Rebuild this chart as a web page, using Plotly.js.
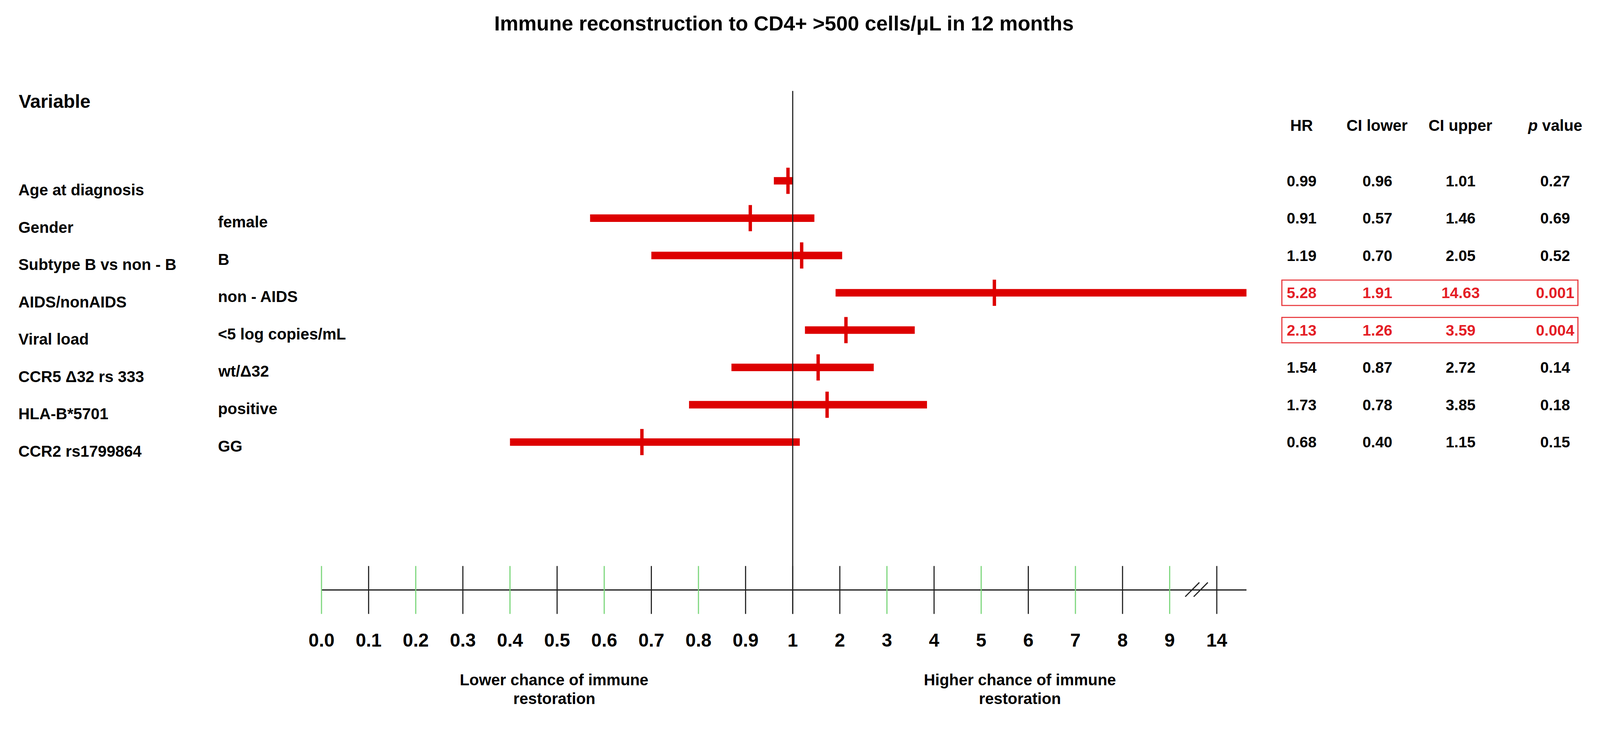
<!DOCTYPE html>
<html>
<head>
<meta charset="utf-8">
<script src="https://cdn.plot.ly/plotly-3.0.1.min.js"></script>
<style>html,body{margin:0;padding:0;background:#fff;overflow:hidden;}</style>
</head>
<body>
<div id="chart"></div>
<script>
// ---- data ----
const variables = ["Age at diagnosis", "Gender", "Subtype B vs non - B", "AIDS/nonAIDS", "Viral load", "CCR5 Δ32 rs 333", "HLA-B*5701", "CCR2 rs1799864"];
const levels = ["", "female", "B", "non - AIDS", "<5 log copies/mL", "wt/Δ32", "positive", "GG"];
const hr = [0.99, 0.91, 1.19, 5.28, 2.13, 1.54, 1.73, 0.68];
const ciLower = [0.96, 0.57, 0.70, 1.91, 1.26, 0.87, 0.78, 0.40];
const ciUpper = [1.01, 1.46, 2.05, 14.63, 3.59, 2.72, 3.85, 1.15];
const pValue = [0.27, 0.69, 0.52, 0.001, 0.004, 0.14, 0.18, 0.15];
const tickValues = [0.0, 0.1, 0.2, 0.3, 0.4, 0.5, 0.6, 0.7, 0.8, 0.9, 1, 2, 3, 4, 5, 6, 7, 8, 9, 14];
const tickLabels = ["0.0", "0.1", "0.2", "0.3", "0.4", "0.5", "0.6", "0.7", "0.8", "0.9", "1", "2", "3", "4", "5", "6", "7", "8", "9", "14"];
const tableHeaders = ["HR", "CI lower", "CI upper", "<i>p</i> value"];
const titleText = "Immune reconstruction to CD4+ &gt;500 cells/μL in 12 months";
const lowerText = ["Lower chance of immune", "restoration"];
const higherText = ["Higher chance of immune", "restoration"];

// ---- style ----
const FONT = "Liberation Sans, Arial, Helvetica, sans-serif";
const RED = "#dd0000";
const TXT_RED = "#e41e26";
const GREEN = "#7ad67a";
const greenTickValues = [0.0, 0.2, 0.4, 0.6, 0.8, 3, 5, 7, 9];

// design size and fit to the actual viewport
const W = 4275, H = 1935;
const vw = window.innerWidth || W, vh = window.innerHeight || H;
const S = Math.min(vw / W, vh / H);
const px = v => v * S;
document.getElementById("chart").style.width = (W * S) + "px";
document.getElementById("chart").style.height = (H * S) + "px";

// broken axis scale: 0-1 by tenths, 1-9 by units, 9-14 compressed to one step
function pos(v) {
  if (v <= 1) return v * 10;
  if (v <= 9) return 10 + (v - 1);
  if (v <= 14) return 18 + (v - 9) / 5;
  return 19 + (v - 14);
}
function esc(s) { return s.replace(/</g, "&lt;").replace(/>/g, "&gt;"); }
function fmtP(p) { return p < 0.01 ? p.toFixed(3) : p.toFixed(2); }

const rows = variables.map((_, i) => i);

const trace = {
  type: "scatter", mode: "markers",
  x: hr.map(pos), y: rows,
  error_x: {
    type: "data", symmetric: false,
    array: hr.map((h, i) => pos(ciUpper[i]) - pos(h)),
    arrayminus: hr.map((h, i) => pos(h) - pos(ciLower[i])),
    color: RED, thickness: px(20), width: 0
  },
  marker: { symbol: "line-ns", size: px(50), color: RED, line: { width: px(9), color: RED } },
  hoverinfo: "skip", showlegend: false
};

// axis geometry (paper coords)
const axisY = 1 - 1576 / H;
const tickTop = 1 - 1512 / H;
const tickBot = 1 - 1640 / H;
const vTop = 1 - 243 / H;

const shapes = [];
shapes.push({ type: "line", xref: "x", yref: "paper", x0: pos(tickValues[0]), x1: Math.max(...ciUpper.map(pos)), y0: axisY, y1: axisY, line: { color: "#111", width: px(3) } });
tickValues.forEach(v => {
  const g = greenTickValues.indexOf(v) >= 0;
  shapes.push({ type: "line", xref: "x", yref: "paper", x0: pos(v), x1: pos(v), y0: tickBot, y1: tickTop, line: { color: g ? GREEN : "#222", width: px(3) } });
});
shapes.push({ type: "line", xref: "x", yref: "paper", x0: pos(1), x1: pos(1), y0: tickBot, y1: vTop, line: { color: "#222", width: px(3) } });
const b0 = pos(9), b1 = pos(14);
[0.33, 0.51].forEach(f => {
  const xa = b0 + (b1 - b0) * f;
  shapes.push({ type: "line", xref: "x", yref: "paper", x0: xa, x1: xa + 0.3, y0: 1 - 1594 / H, y1: 1 - 1556 / H, line: { color: "#222", width: px(3) } });
});

const colX = [3478, 3680, 3902, 4155].map(v => v / W);
const annotations = [];
annotations.push({ xref: "paper", yref: "paper", x: 48 / W, y: 1 - 271 / H, xanchor: "left", yanchor: "middle", showarrow: false, text: "<b>Variable</b>", font: { family: FONT, size: px(50), color: "#000" } });
tableHeaders.forEach((h, j) => {
  annotations.push({ xref: "paper", yref: "paper", x: colX[j], y: 1 - 336 / H, xanchor: "center", yanchor: "middle", showarrow: false, text: "<b>" + h + "</b>", font: { family: FONT, size: px(42), color: "#000" } });
});
variables.forEach((v, i) => {
  annotations.push({ xref: "paper", yref: "y", x: 47 / W, y: i, yshift: px(-25), xanchor: "left", yanchor: "middle", showarrow: false, text: "<b>" + esc(v) + "</b>", font: { family: FONT, size: px(42), color: "#000" } });
  if (levels[i]) {
    annotations.push({ xref: "paper", yref: "y", x: 580 / W, y: i, yshift: px(-11), xanchor: "left", yanchor: "middle", showarrow: false, text: "<b>" + esc(levels[i]) + "</b>", font: { family: FONT, size: px(42), color: "#000" } });
  }
  const sig = pValue[i] < 0.05;
  const vals = [hr[i].toFixed(2), ciLower[i].toFixed(2), ciUpper[i].toFixed(2), fmtP(pValue[i])];
  vals.forEach((t, j) => {
    annotations.push({ xref: "paper", yref: "y", x: colX[j], y: i, xanchor: "center", yanchor: "middle", showarrow: false, text: "<b>" + t + "</b>", font: { family: FONT, size: px(41), color: sig ? TXT_RED : "#000" } });
  });
  if (sig) {
    shapes.push({ type: "rect", xref: "paper", yref: "y", x0: 3425 / W, x1: 4216 / W, y0: i - 0.34, y1: i + 0.34, line: { color: "#e8383d", width: px(3) }, fillcolor: "rgba(0,0,0,0)" });
  }
});
[[lowerText, 1481], [higherText, 2725]].forEach(([lines, cx]) => {
  lines.forEach((t, k) => {
    annotations.push({ xref: "paper", yref: "paper", x: cx / W, y: 1 - (1817 + 50 * k) / H, xanchor: "center", yanchor: "middle", showarrow: false, text: "<b>" + t + "</b>", font: { family: FONT, size: px(42), color: "#000" } });
  });
});

const layout = {
  width: W * S, height: H * S,
  margin: { l: 0, r: 0, t: 0, b: 0, pad: 0 },
  paper_bgcolor: "#fff", plot_bgcolor: "#fff",
  showlegend: false,
  title: { text: "<b>" + titleText + "</b>", font: { family: FONT, size: px(55), color: "#000" }, x: 0.49, xanchor: "center", xref: "paper", y: 1 - 62 / H, yanchor: "middle", yref: "paper" },
  xaxis: {
    domain: [0, 1], range: [-859 / 125.9, (W - 859) / 125.9],
    anchor: "free", position: axisY,
    showline: false, showgrid: false, zeroline: false,
    tickmode: "array", tickvals: tickValues.map(pos), ticktext: tickLabels.map(s => "<b>" + s + "</b>"),
    ticks: "outside", ticklen: px(90), tickcolor: "rgba(0,0,0,0)",
    tickfont: { family: FONT, size: px(50), color: "#000" },
    fixedrange: true
  },
  yaxis: { domain: [0, 1], range: [(H - 483) / 99.7, -483 / 99.7], visible: false, fixedrange: true },
  shapes: shapes,
  annotations: annotations
};

Plotly.newPlot("chart", [trace], layout, { staticPlot: true, displayModeBar: false });
</script>
</body>
</html>
